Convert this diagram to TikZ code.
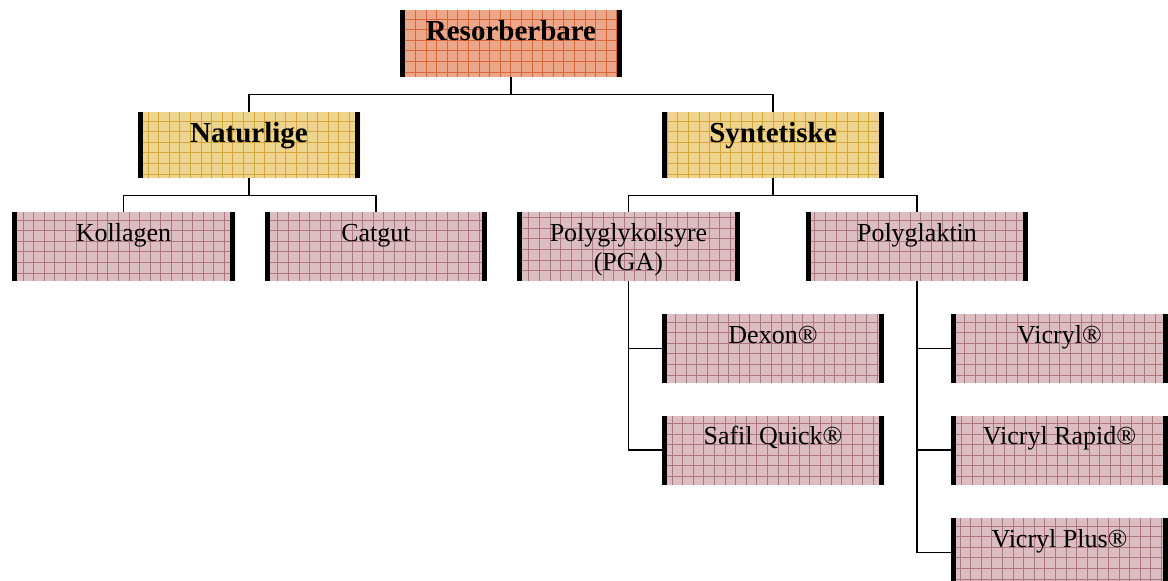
\documentclass[tikz,border=0pt]{standalone}
\usepackage{fontspec}
\setmainfont{Liberation Serif}
\definecolor{salmonfill}{RGB}{236,166,138}
\definecolor{salmongrid}{RGB}{214,104,58}
\definecolor{yelfill}{RGB}{238,212,140}
\definecolor{yelgrid}{RGB}{212,166,60}
\definecolor{pinkfill}{RGB}{220,190,194}
\definecolor{pinkgrid}{RGB}{174,118,126}
\tikzset{
  gridbox/.style 2 args={draw=none, fill=#1, inner sep=0pt, minimum width=222pt,
    align=center, text height=29pt, text depth=40pt,
    path picture={
      \draw[#2, line width=0.5pt, step=10.6pt]
        (path picture bounding box.south west) grid (path picture bounding box.north east);
      \fill[black] (path picture bounding box.south west) rectangle ([xshift=5pt]path picture bounding box.north west);
      \fill[black] (path picture bounding box.south east) rectangle ([xshift=-5pt]path picture bounding box.north east);
    }},
  topbox/.style={gridbox={salmonfill}{salmongrid}, font=\fontsize{29}{33}\selectfont\bfseries, text height=30pt, text depth=37pt},
  midbox/.style={gridbox={yelfill}{yelgrid}, font=\fontsize{29}{33}\selectfont\bfseries, text height=30pt, text depth=36pt},
  leafbox/.style={gridbox={pinkfill}{pinkgrid}, font=\fontsize{26}{29.5}\selectfont},
  twoline/.style={text height=58.5pt, text depth=10.5pt},
  conn/.style={draw=black, line width=1.3pt},
}
\begin{document}
\begin{tikzpicture}[x=1pt,y=-1pt]
\clip (0,0) rectangle (1168,581);
\fill[white] (0,0) rectangle (1168,581);
\node[topbox] (R) at (511,43.5) {Resorberbare};
\node[midbox] (N) at (249,145) {Naturlige};
\node[midbox] (S) at (773,145) {Syntetiske};
\node[leafbox, minimum width=223pt] (K) at (123.5,246.5) {Kollagen};
\node[leafbox] (C) at (376,246.5) {Catgut};
\node[leafbox, twoline, minimum width=223pt] (P) at (628.5,246.5) {Polyglykolsyre\\(PGA)};
\node[leafbox] (G) at (917,246.5) {Polyglaktin};
\node[leafbox] (D) at (773,348.5) {Dexon®};
\node[leafbox] (Q) at (773,450) {Safil Quick®};
\node[leafbox, minimum width=217pt] (V1) at (1059.5,348.5) {Vicryl®};
\node[leafbox, minimum width=217pt] (V2) at (1059.5,450) {Vicryl Rapid®};
\node[leafbox, minimum width=217pt] (V3) at (1059.5,552.5) {Vicryl Plus®};
\coordinate (rj) at ([yshift=-17pt]R.south);
\coordinate (nj) at ([yshift=-17pt]N.south);
\coordinate (sj) at ([yshift=-17pt]S.south);
\draw[conn] (R.south) -- (rj);
\draw[conn] (rj) -| (N.north);
\draw[conn] (rj) -| (S.north);
\draw[conn] (N.south) -- (nj);
\draw[conn] (nj) -| (K.north);
\draw[conn] (nj) -| (C.north);
\draw[conn] (S.south) -- (sj);
\draw[conn] (sj) -| (P.north);
\draw[conn] (sj) -| (G.north);
\draw[conn] (P.south) |- (D.west);
\draw[conn] (P.south) |- (Q.west);
\draw[conn] (G.south) |- (V1.west);
\draw[conn] (G.south) |- (V2.west);
\draw[conn] (G.south) |- (V3.west);
\end{tikzpicture}
\end{document}
